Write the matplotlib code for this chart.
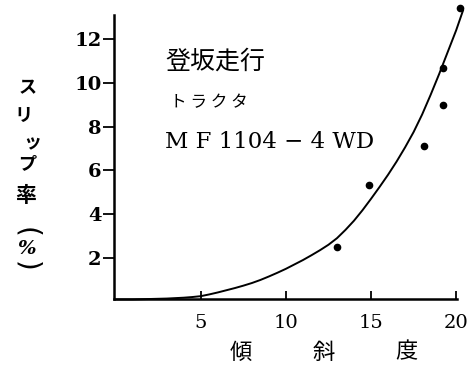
import matplotlib
matplotlib.use("Agg")
import matplotlib.pyplot as plt

plt.rcParams['font.family'] = ['Noto Sans CJK JP', 'DejaVu Sans']

# measured points (slope in degrees, slip %)
point_x = [13.0, 14.9, 18.1, 19.2, 19.2, 20.2]
point_y = [2.5, 5.35, 7.1, 9.0, 10.7, 13.4]

# fitted curve
curve_x = [0, 1, 2, 3, 4, 4.5, 5, 5.5, 6, 6.5, 7, 7.5, 8, 8.5, 9, 9.5, 10, 10.5,
           11, 11.5, 12, 12.5, 13, 13.5, 14, 14.5, 15, 15.5, 16, 16.5, 17, 17.5,
           18, 18.5, 19, 19.5, 20, 20.4]
curve_y = [0.1, 0.1, 0.12, 0.14, 0.18, 0.21, 0.25, 0.33, 0.42, 0.52, 0.62, 0.73,
           0.85, 0.99, 1.15, 1.32, 1.5, 1.7, 1.9, 2.12, 2.35, 2.6, 2.9, 3.28, 3.7,
           4.18, 4.7, 5.24, 5.8, 6.4, 7.05, 7.75, 8.55, 9.45, 10.4, 11.4, 12.4, 13.3]

x_ticks = [5, 10, 15, 20]
y_ticks = [2, 4, 6, 8, 10, 12]
ylabel_chars = ['ス', 'リ', 'ッ', 'プ', '率']
xlabel_chars = ['傾', '斜', '度']

W, H = 468, 367
fig = plt.figure(figsize=(W / 100, H / 100), dpi=100)
ax = fig.add_axes([114 / W, 1 - 299 / H, (457 - 114) / W, (299 - 15) / H])

ax.plot(curve_x, curve_y, color='black', lw=1.4, clip_on=False)
ax.plot(point_x, point_y, 'o', color='black', ms=4.5, clip_on=False)

ax.set_xlim(-0.1, 20.05)
ax.set_ylim(0.12, 13.1)
for s in ['top', 'right']:
    ax.spines[s].set_visible(False)
for s in ['left', 'bottom']:
    ax.spines[s].set_linewidth(1.8)

ax.set_xticks(x_ticks)
ax.set_yticks(y_ticks)
ax.set_xticklabels([str(v) for v in x_ticks], family='DejaVu Serif', fontsize=14)
ax.set_yticklabels([str(v) for v in y_ticks], family='DejaVu Serif', fontsize=14, fontweight='bold')
ax.tick_params(axis='x', direction='in', length=6, width=1.3, pad=11)
ax.tick_params(axis='y', direction='out', length=8, width=1.3, pad=1)

# annotation in the plot
ax.text(2.9, 10.95, '登坂走行', fontsize=18, va='center', ha='left')
ax.text(3.2, 9.1, 'ト ラ ク タ', fontsize=12, va='center', ha='left')
ax.text(2.9, 7.3, 'M F 1104 − 4 WD', family='DejaVu Serif', fontsize=16.5, va='center', ha='left')

# vertical y label
ylabel_pos = [(28, 88), (23, 115), (32, 143), (27, 164), (26, 195)]
for ch, (px, py) in zip(ylabel_chars, ylabel_pos):
    fig.text(px / W, 1 - py / H, ch, fontsize=15 if ch == '率' else 13,
             ha='center', va='center', fontweight='bold')
fig.text(26 / W, 1 - 232 / H, '(', family='DejaVu Sans', fontsize=20,
         rotation=-90, ha='center', va='center')
fig.text(26 / W, 1 - 249 / H, '%', family='DejaVu Serif', fontsize=14,
         style='italic', fontweight='bold', ha='center', va='center')
fig.text(26 / W, 1 - 266 / H, ')', family='DejaVu Sans', fontsize=20,
         rotation=-90, ha='center', va='center')

# spaced x label
for ch, px in zip(xlabel_chars, [241, 324, 406]):
    fig.text(px / W, 1 - 352 / H, ch, fontsize=16, ha='center', va='center')

fig.savefig('out.png', dpi=100)
